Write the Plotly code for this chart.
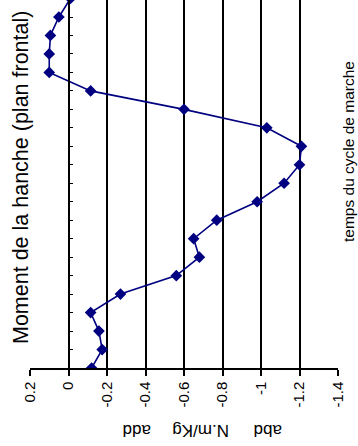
import plotly.graph_objects as go

# Data (gait cycle sample index vs. hip frontal-plane moment, N.m/Kg)
cycle_idx = list(range(21))
moment = [-0.12, -0.175, -0.158, -0.115, -0.27, -0.56, -0.68, -0.65, -0.77, -0.98,
          -1.12, -1.20, -1.21, -1.03, -0.60, -0.115, 0.10, 0.10, 0.094, 0.05, -0.01]

x_tickvals = [0.2, 0, -0.2, -0.4, -0.6, -0.8, -1, -1.2, -1.4]
x_ticktext = ["0.2", "0", "-0.2", "-0.4", "-0.6", "-0.8", "-1", "-1.2", "-1.4"]
grid_vals = [-0.2, -0.4, -0.6, -0.8, -1, -1.2]
y_tickvals = list(range(20))

title_text = "Moment de la hanche (plan frontal)"
time_label = "temps du cycle de marche"
axis_words = ["add", "N.m/Kg", "abd"]

FONT = "Liberation Sans, Arial, sans-serif"
L, R, T, B = 30, 20, 0, 78
W, H = 358, 446
PW, PH = W - L - R, H - T - B

def px(xp):
    return (xp - L) / PW

def py(yp):
    return (H - B - yp) / PH

fig = go.Figure()
fig.add_trace(go.Scatter(
    x=moment, y=cycle_idx, mode="lines+markers",
    line=dict(color="#000080", width=1.6),
    marker=dict(symbol="diamond", size=9, color="#000080"),
    showlegend=False, hoverinfo="skip",
))
# invisible trace to keep the grid axis alive
fig.add_trace(go.Scatter(x=[None], y=[None], xaxis="x2", yaxis="y",
                         showlegend=False, hoverinfo="skip"))

x0_frac = (0.2 - 0) / (0.2 - (-1.4))

fig.update_layout(
    width=W, height=H,
    margin=dict(l=L, r=R, t=T, b=B, pad=0),
    paper_bgcolor="white", plot_bgcolor="white",
    font=dict(family=FONT, color="black"),
    xaxis=dict(
        range=[0.2, -1.4], tickvals=x_tickvals, ticktext=x_ticktext,
        tickangle=-90, tickfont=dict(size=15, family=FONT, color="black"),
        showgrid=False, zeroline=False, showline=True, linecolor="black",
        linewidth=1.5, ticks="outside", ticklen=6, tickwidth=1.5, tickcolor="black",
        fixedrange=True,
    ),
    xaxis2=dict(
        range=[0.2, -1.4], overlaying="x", anchor="y", side="bottom",
        tickvals=grid_vals, showgrid=True, gridcolor="black", gridwidth=1.5,
        showticklabels=False, ticks="", zeroline=False, showline=False,
    ),
    yaxis=dict(
        range=[0, 19.92], tickvals=y_tickvals, showticklabels=False,
        anchor="free", position=x0_frac, showline=True, linecolor="black",
        linewidth=1.5, ticks="inside", ticklen=4, tickwidth=1.2, tickcolor="black",
        showgrid=False, zeroline=False,
    ),
    annotations=[
        dict(text=title_text, xref="paper", yref="paper", x=px(21), y=py(178),
             textangle=-90, showarrow=False, xanchor="center", yanchor="middle",
             font=dict(size=21.5, family=FONT, color="black")),
        dict(text=time_label, xref="paper", yref="paper", x=px(349), y=py(152),
             textangle=-90, showarrow=False, xanchor="center", yanchor="middle",
             font=dict(size=15.5, family=FONT, color="black")),
        dict(text=axis_words[0], xref="paper", yref="paper", x=px(137), y=py(431),
             textangle=180, showarrow=False, xanchor="center", yanchor="middle",
             font=dict(size=17, family=FONT, color="black")),
        dict(text=axis_words[1], xref="paper", yref="paper", x=px(201), y=py(431),
             textangle=180, showarrow=False, xanchor="center", yanchor="middle",
             font=dict(size=17, family=FONT, color="black")),
        dict(text=axis_words[2], xref="paper", yref="paper", x=px(268), y=py(431),
             textangle=180, showarrow=False, xanchor="center", yanchor="middle",
             font=dict(size=17, family=FONT, color="black")),
    ],
)

fig.write_html("out.html", config={"displayModeBar": False},
               post_script="document.body.style.margin='0';")
